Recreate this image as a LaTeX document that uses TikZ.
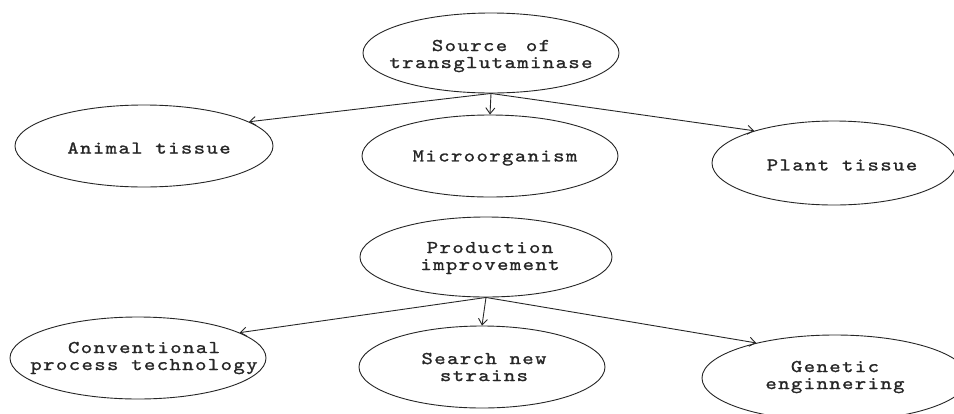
\documentclass[tikz,border=0pt]{standalone}
\usepackage{fontspec}
\newfontfamily\tw{lmmono10-regular.otf}[FakeStretch=1.2,FakeBold=1.2,LetterSpace=8]
\usetikzlibrary{shapes.geometric,arrows.meta}
\begin{document}
\begin{tikzpicture}[x=1pt,y=-1pt,
  ell/.style={draw=black!85, line width=0.9pt, ellipse, inner sep=0pt},
  lbl/.style={font=\tw\fontsize{18}{17}\selectfont, align=center, text=black!85, inner sep=0pt},
  arr/.style={draw=black!85, line width=0.9pt, -{Straight Barb[length=6pt,width=9pt]}}]
\useasboundingbox[fill=white] (0,0) rectangle (954,413);
% ellipses
\node[ell,minimum width=256pt,minimum height=80pt] (src) at (491,53) {};
\node[ell,minimum width=258pt,minimum height=82pt] (animal) at (144,146) {};
\node[ell,minimum width=256pt,minimum height=82pt] (micro) at (490,156) {};
\node[ell,minimum width=244pt,minimum height=84pt] (plant) at (834,163) {};
\node[ell,minimum width=252pt,minimum height=80pt] (prod) at (486,257) {};
\node[ell,minimum width=256pt,minimum height=82pt] (conv) at (138,358) {};
\node[ell,minimum width=246pt,minimum height=82pt] (search) at (482,367) {};
\node[ell,minimum width=266pt,minimum height=86pt] (gen) at (835,378) {};
% labels
\node[lbl] (srct) at (491,56) {Source\hspace{6pt} of\\transglutaminase};
\node[lbl] (animalt) at (149,148) {Animal tissue};
\node[lbl] (microt) at (495,158) {Microorganism};
\node[lbl] (plantt) at (842,165) {Plant tissue};
\node[lbl] (prodt) at (490,258) {Production\\improvement};
\node[lbl] (convt) at (144,358) {Conventional\\process technology};
\node[lbl] (searcht) at (484,367) {Search new\\strains};
\node[lbl] (gent) at (835,377) {Genetic\\enginnering};
% connectors
\draw[arr] (src.south) -- (micro.north);
\draw[arr] (src.south) -- (animal.13);
\draw[arr] (src.south) -- (plant.158);
\draw[arr] (prod.south) -- (conv.14);
\draw[arr] (prod.south) -- (search.north);
\draw[arr] (prod.south) -- (gen.156);
\end{tikzpicture}
\end{document}
